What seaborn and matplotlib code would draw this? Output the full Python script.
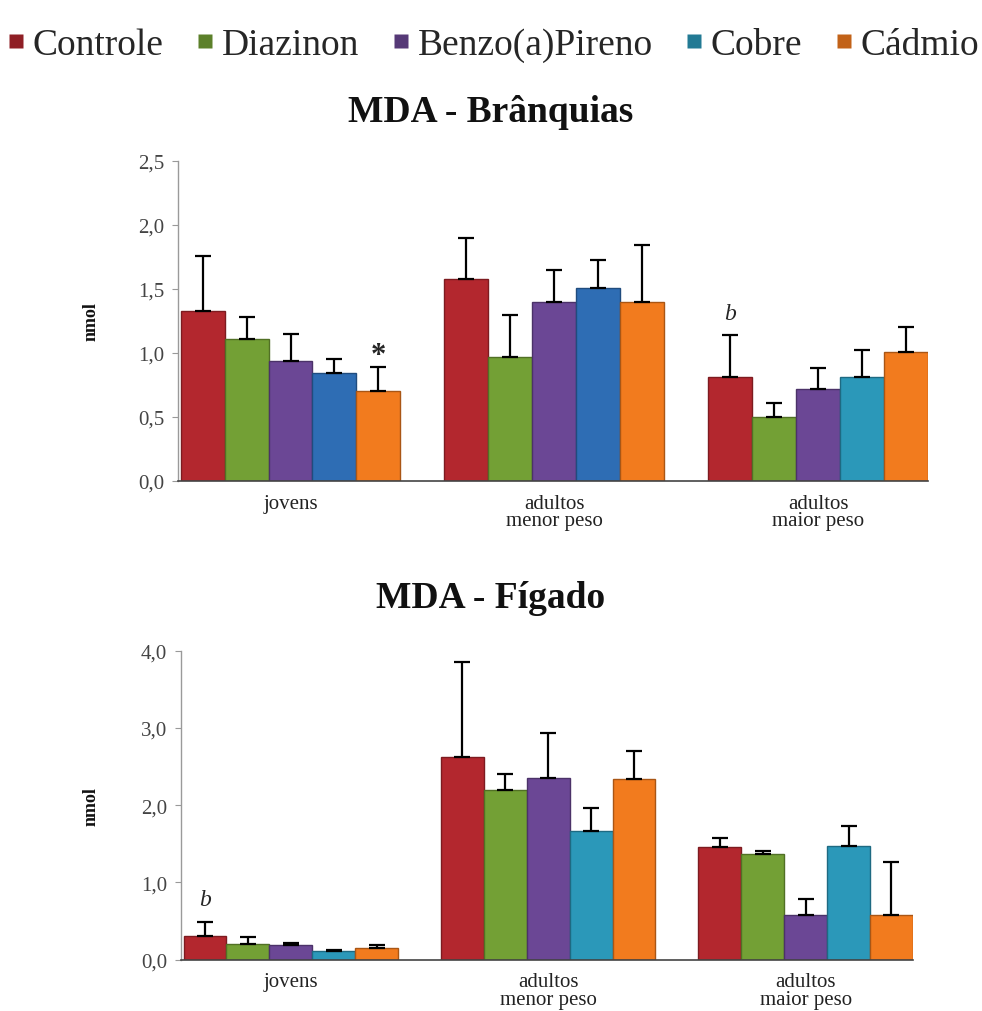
import numpy as np
import pandas as pd
import matplotlib
matplotlib.use("Agg")
import matplotlib.pyplot as plt
from matplotlib.lines import Line2D
import matplotlib.colors as mcolors
import seaborn as sns

# ---- data ----
grupos = ["jovens", "adultos\nmenor peso", "adultos\nmaior peso"]
tratamentos = ["Controle", "Diazinon", "Benzo(a)Pireno", "Cobre", "Cádmio"]

# MDA - Brânquias (mean, upper SD)
br_controle = [1.33, 1.58, 0.81]
br_diazinon = [1.11, 0.97, 0.50]
br_benzo = [0.94, 1.40, 0.72]
br_cobre = [0.84, 1.51, 0.81]
br_cadmio = [0.70, 1.40, 1.01]
br_sd_controle = [0.43, 0.32, 0.33]
br_sd_diazinon = [0.17, 0.33, 0.11]
br_sd_benzo = [0.21, 0.25, 0.16]
br_sd_cobre = [0.11, 0.22, 0.21]
br_sd_cadmio = [0.19, 0.44, 0.19]

# MDA - Fígado (mean, upper SD)
fi_controle = [0.31, 2.63, 1.46]
fi_diazinon = [0.20, 2.20, 1.37]
fi_benzo = [0.19, 2.35, 0.58]
fi_cobre = [0.11, 1.66, 1.47]
fi_cadmio = [0.15, 2.34, 0.58]
fi_sd_controle = [0.18, 1.23, 0.12]
fi_sd_diazinon = [0.10, 0.20, 0.04]
fi_sd_benzo = [0.03, 0.59, 0.21]
fi_sd_cobre = [0.01, 0.31, 0.26]
fi_sd_cadmio = [0.04, 0.36, 0.69]

br_ticks = [0.0, 0.5, 1.0, 1.5, 2.0, 2.5]
fi_ticks = [0.0, 1.0, 2.0, 3.0, 4.0]

# significance marks: (treatment, group, text, italic)
br_marks = [("Cádmio", 0, "*", False), ("Controle", 2, "b", True)]
fi_marks = [("Controle", 0, "b", True)]

cores = {
    "Controle": "#B3272E",
    "Diazinon": "#73A035",
    "Benzo(a)Pireno": "#6B4795",
    "Cobre": "#2B98B9",
    "Cádmio": "#F27B1E",
}
cobre_azul = "#2E6DB4"


def build_frame(means, sds):
    rows = []
    for t, m, s in zip(tratamentos, means, sds):
        for g, v, e in zip(grupos, m, s):
            rows.append({"grupo": g, "tratamento": t, "nmol": v, "sd": e})
    return pd.DataFrame(rows)


df_br = build_frame(
    [br_controle, br_diazinon, br_benzo, br_cobre, br_cadmio],
    [br_sd_controle, br_sd_diazinon, br_sd_benzo, br_sd_cobre, br_sd_cadmio],
)
df_fi = build_frame(
    [fi_controle, fi_diazinon, fi_benzo, fi_cobre, fi_cadmio],
    [fi_sd_controle, fi_sd_diazinon, fi_sd_benzo, fi_sd_cobre, fi_sd_cadmio],
)

sns.set_theme(style="white")
plt.rcParams["font.family"] = ["Liberation Serif", "DejaVu Serif"]

fig = plt.figure(figsize=(9.82, 10.12), dpi=100)
fig.patch.set_facecolor("white")

ax1 = fig.add_axes([0.1813, 0.5237, 0.7637, 0.3162])
ax2 = fig.add_axes([0.1843, 0.0507, 0.7454, 0.3053])


def draw_panel(ax, df, ticks, ymax, marks, blue_cobre_groups):
    sns.barplot(data=df, x="grupo", y="nmol", hue="tratamento",
                hue_order=tratamentos, order=grupos, palette=cores,
                width=0.833, errorbar=None, saturation=1.0,
                legend=False, ax=ax)
    for t, cont in zip(tratamentos, ax.containers):
        sub = df[df["tratamento"] == t].set_index("grupo").loc[grupos]
        xs, ys = [], []
        for gi, bar in enumerate(cont):
            c = cores[t]
            if t == "Cobre" and gi in blue_cobre_groups:
                c = cobre_azul
            bar.set_facecolor(c)
            dark = np.array(mcolors.to_rgb(c)) * 0.7
            bar.set_edgecolor(dark)
            bar.set_linewidth(1.0)
            xs.append(bar.get_x() + bar.get_width() / 2)
            ys.append(bar.get_height())
        err = sub["sd"].values
        ax.errorbar(xs, ys, yerr=[np.zeros_like(err), err], fmt="none",
                    ecolor="black", elinewidth=1.6, capsize=6,
                    capthick=1.6, zorder=5)
        for (mt, mg, txt, ital) in marks:
            if mt == t:
                top = ys[mg] + err[mg]
                off = 12 if txt == "*" else 22
                ax.annotate(txt, (xs[mg], top), xytext=(0, off),
                            textcoords="offset pixels",
                            ha="center", va="center",
                            fontsize=22 if txt == "*" else 17,
                            fontweight="bold" if txt == "*" else "normal",
                            style="italic" if ital else "normal")
    ax.set_xlim(-0.4265, 2.417)
    ax.set_ylim(0, ymax)
    ax.set_yticks(ticks)
    ax.set_yticklabels([f"{v:.1f}".replace(".", ",") for v in ticks],
                       fontsize=15, color="#444444")
    ax.tick_params(axis="y", which="major", left=True, length=4,
                   width=0.8, color="#999999", pad=6)
    ax.tick_params(axis="x", bottom=False, labelsize=15, pad=3,
                   labelcolor="#222222")
    for lbl in ax.get_xticklabels():
        lbl.set_linespacing(0.88)
    ax.set_xlabel("")
    ax.set_ylabel("nmol", fontsize=13, fontweight="bold", color="#111111")
    for s in ["top", "right"]:
        ax.spines[s].set_visible(False)
    ax.spines["left"].set_color("#9a9a9a")
    ax.spines["left"].set_linewidth(1.0)
    ax.spines["bottom"].set_color("#444444")
    ax.spines["bottom"].set_linewidth(1.2)
    ax.set_facecolor("white")


draw_panel(ax1, df_br, br_ticks, 2.5, br_marks, blue_cobre_groups=[0, 1])
draw_panel(ax2, df_fi, fi_ticks, 4.0, fi_marks, blue_cobre_groups=[])
ax1.yaxis.set_label_coords(-0.104, 0.5)
ax2.yaxis.set_label_coords(-0.111, 0.5)

fig.text(0.5, 1 - 112 / 1012, "MDA - Brânquias", ha="center", va="center",
         fontsize=27, fontweight="bold", color="#111111")
fig.text(0.5, 1 - 598 / 1012, "MDA - Fígado", ha="center", va="center",
         fontsize=27, fontweight="bold", color="#111111")

handles = [Line2D([0], [0], marker="s", linestyle="none", markersize=10,
                  markerfacecolor=mcolors.to_hex(np.array(mcolors.to_rgb(cores[t])) * 0.8),
                  markeredgecolor="none") for t in tratamentos]
fig.legend(handles, tratamentos, loc="center", bbox_to_anchor=(0.5, 1 - 46 / 1012),
           ncol=5, frameon=False, fontsize=27, handletextpad=0.1,
           columnspacing=0.75, handlelength=0.7, borderaxespad=0)

fig.savefig("out.png", dpi=100, facecolor="white")
